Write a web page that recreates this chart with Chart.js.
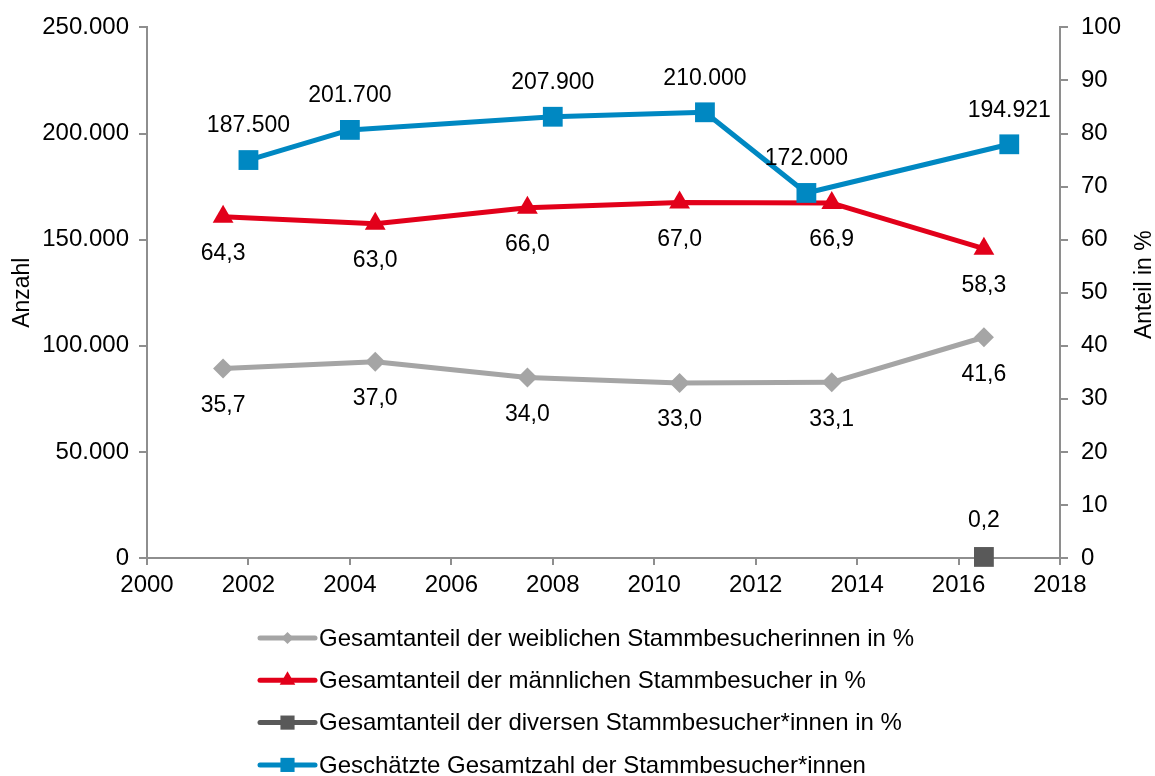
<!DOCTYPE html>
<html lang="de">
<head>
<meta charset="utf-8">
<title>Stammbesucher*innen</title>
<script src="https://cdn.jsdelivr.net/npm/chart.js@4.4.1/dist/chart.umd.min.js"></script>
<style>
  html, body { margin: 0; padding: 0; background: #fff; }
  canvas { display: block; }
</style>
</head>
<body>
<canvas id="chart" width="1155" height="776"></canvas>
<script>
// values
const shareYears = [2001.5, 2004.5, 2007.5, 2010.5, 2013.5, 2016.5];
const femaleShare = [35.7, 37.0, 34.0, 33.0, 33.1, 41.6];
const maleShare = [64.3, 63.0, 66.0, 67.0, 66.9, 58.3];
const diverseYears = [2016.5];
const diverseShare = [0.2];
const totalYears = [2002, 2004, 2008, 2011, 2013, 2017];
const totalVisitors = [187500, 201700, 207900, 210000, 172000, 194921];

const seriesLabels = [
  "Gesamtanteil der weiblichen Stammbesucherinnen in %",
  "Gesamtanteil der männlichen Stammbesucher in %",
  "Gesamtanteil der diversen Stammbesucher*innen in %",
  "Geschätzte Gesamtzahl der Stammbesucher*innen"
];
const leftAxisTitle = "Anzahl";
const rightAxisTitle = "Anteil in %";

const FONT = '"Liberation Sans", Arial, sans-serif';
const AXIS_GREY = "#8e8e8e";

const fmtThousands = v => String(Math.round(v)).replace(/\B(?=(\d{3})+(?!\d))/g, ".");
const fmtPercent = v => v.toFixed(1).replace(".", ",");
const toPoints = (xs, ys) => xs.map((x, i) => ({ x: x, y: ys[i] }));

// small value labels next to each point
const valueLabels = {
  id: "valueLabels",
  afterDatasetsDraw(chart) {
    const ctx = chart.ctx;
    ctx.save();
    ctx.font = "23px " + FONT;
    ctx.fillStyle = "#000";
    ctx.textAlign = "center";
    ctx.textBaseline = "middle";
    chart.data.datasets.forEach((ds, i) => {
      chart.getDatasetMeta(i).data.forEach((pt, j) => {
        ctx.fillText(ds.fmt(ds.data[j].y), pt.x, pt.y + ds.labelOffset);
      });
    });
    ctx.restore();
  }
};

// legend stacked in one column under the plot, plus the right axis title
const columnLegend = {
  id: "columnLegend",
  afterDraw(chart, args, opts) {
    const ctx = chart.ctx;
    ctx.save();
    chart.data.datasets.forEach((ds, i) => {
      const y = opts.top + i * opts.rowGap;
      ctx.strokeStyle = ds.borderColor;
      ctx.lineWidth = 5;
      ctx.lineCap = "round";
      ctx.beginPath();
      ctx.moveTo(opts.left, y);
      ctx.lineTo(opts.left + opts.lineLength, y);
      ctx.stroke();
      ctx.fillStyle = ds.borderColor;
      Chart.helpers.drawPoint(ctx, {
        pointStyle: ds.pointStyle, radius: ds.legendRadius, borderWidth: 0, rotation: 0
      }, opts.left + opts.lineLength / 2, y);
      ctx.fillStyle = "#000";
      ctx.font = "24px " + FONT;
      ctx.textAlign = "left";
      ctx.textBaseline = "middle";
      ctx.fillText(ds.label, opts.left + opts.lineLength + 4, y + 1);
    });

    const s = chart.scales.y1;
    ctx.translate(s.right - 10, (s.top + s.bottom) / 2 - 8);
    ctx.rotate(-Math.PI / 2);
    ctx.textAlign = "center";
    ctx.font = "23px " + FONT;
    ctx.fillText(rightAxisTitle, 0, 0);
    ctx.restore();
  }
};

Chart.defaults.font.family = FONT;
Chart.defaults.font.size = 23;
Chart.defaults.color = "#000";

new Chart(document.getElementById("chart"), {
  type: "line",
  data: {
    datasets: [
      {
        label: seriesLabels[0],
        data: toPoints(shareYears, femaleShare),
        yAxisID: "y1",
        borderColor: "#a5a5a5",
        backgroundColor: "#a5a5a5",
        pointStyle: "rectRot",
        pointRadius: 10,
        legendRadius: 6,
        labelOffset: 37,
        fmt: fmtPercent,
        order: 3
      },
      {
        label: seriesLabels[1],
        data: toPoints(shareYears, maleShare),
        yAxisID: "y1",
        borderColor: "#e2001a",
        backgroundColor: "#e2001a",
        pointStyle: "triangle",
        pointRadius: 12,
        legendRadius: 9,
        labelOffset: 37,
        fmt: fmtPercent,
        order: 2
      },
      {
        label: seriesLabels[2],
        data: toPoints(diverseYears, diverseShare),
        yAxisID: "y1",
        borderColor: "#595959",
        backgroundColor: "#595959",
        pointStyle: "rect",
        pointRadius: 14,
        legendRadius: 10,
        labelOffset: -36,
        fmt: fmtPercent,
        order: 1
      },
      {
        label: seriesLabels[3],
        data: toPoints(totalYears, totalVisitors),
        yAxisID: "y",
        borderColor: "#0088c2",
        backgroundColor: "#0088c2",
        pointStyle: "rect",
        pointRadius: 14,
        legendRadius: 10,
        labelOffset: -34,
        fmt: fmtThousands,
        order: 0
      }
    ]
  },
  options: {
    responsive: false,
    animation: false,
    clip: false,
    layout: { padding: { top: 27, bottom: 178, left: 0, right: 0 } },
    elements: {
      line: { borderWidth: 5, tension: 0, borderJoinStyle: "round", borderCapStyle: "round" },
      point: { borderWidth: 0, hoverRadius: 14 }
    },
    plugins: {
      legend: { display: false },
      tooltip: { enabled: false },
      columnLegend: { left: 260, top: 638, rowGap: 42.3, lineLength: 55 }
    },
    scales: {
      x: {
        type: "linear",
        min: 2000,
        max: 2018,
        ticks: { stepSize: 2, padding: 6, font: { size: 24 }, callback: v => String(v) },
        grid: { drawOnChartArea: false, color: AXIS_GREY, lineWidth: 2, tickLength: 7 },
        border: { color: AXIS_GREY, width: 2 },
        afterFit: s => { s.height = 40; }
      },
      y: {
        position: "left",
        min: 0,
        max: 250000,
        ticks: { stepSize: 50000, padding: 10, font: { size: 24 }, callback: v => fmtThousands(v) },
        grid: { drawOnChartArea: false, color: AXIS_GREY, lineWidth: 2, tickLength: 8 },
        border: { color: AXIS_GREY, width: 2 },
        title: { display: true, text: leftAxisTitle, padding: { top: 9, bottom: 0 } },
        afterFit: s => { s.width = 147; }
      },
      y1: {
        position: "right",
        min: 0,
        max: 100,
        ticks: { stepSize: 10, padding: 13, font: { size: 24 } },
        grid: { drawOnChartArea: false, color: AXIS_GREY, lineWidth: 2, tickLength: 8 },
        border: { color: AXIS_GREY, width: 2 },
        afterFit: s => { s.width = 95; }
      }
    }
  },
  plugins: [valueLabels, columnLegend]
});
</script>
</body>
</html>
